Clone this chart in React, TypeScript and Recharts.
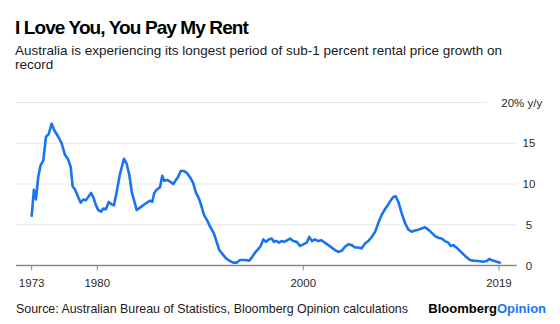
import React from 'react';
import { LineChart, Line, XAxis, YAxis, CartesianGrid } from 'recharts';

// Year (decimal) of each observation
const years = [
  1973.63, 1973.85, 1974.05, 1974.27, 1974.5, 1974.76, 1975.02, 1975.28, 1975.57, 1975.83,
  1976.21, 1976.54, 1976.86, 1977.18, 1977.42, 1977.61, 1977.83, 1978.06, 1978.39, 1978.64,
  1978.87, 1979.13, 1979.39, 1979.61, 1979.87, 1980.1, 1980.36, 1980.58, 1980.84, 1981.11,
  1981.4, 1981.62, 1981.88, 1982.2, 1982.59, 1982.85, 1983.11, 1983.37, 1983.66, 1983.83,
  1984.15, 1984.47, 1984.8, 1985.12, 1985.34, 1985.53, 1985.77, 1986.09, 1986.31, 1986.5,
  1986.8, 1987.06, 1987.38, 1987.64, 1987.86, 1988.1, 1988.42, 1988.74, 1989.07, 1989.32,
  1989.58, 1989.81, 1990.04, 1990.36, 1990.68, 1990.94, 1991.33, 1991.59, 1991.84, 1992.17,
  1992.5, 1992.88, 1993.2, 1993.53, 1993.85, 1994.34, 1994.76, 1994.99, 1995.31, 1995.63,
  1995.86, 1996.12, 1996.38, 1996.64, 1996.93, 1997.16, 1997.42, 1997.64, 1997.9, 1998.13,
  1998.45, 1998.71, 1999.03, 1999.36, 1999.68, 2000.0, 2000.33, 2000.58, 2000.84, 2001.13,
  2001.46, 2001.78, 2002.1, 2002.43, 2002.76, 2003.08, 2003.4, 2003.73, 2004.05, 2004.37,
  2004.7, 2005.02, 2005.34, 2005.67, 2005.99, 2006.31, 2006.64, 2006.96, 2007.28, 2007.61,
  2007.93, 2008.25, 2008.5, 2008.74, 2008.98, 2009.23, 2009.56, 2009.88, 2010.2, 2010.53,
  2010.85, 2011.17, 2011.5, 2011.82, 2012.14, 2012.47, 2012.79, 2013.11, 2013.44, 2013.76,
  2014.08, 2014.31, 2014.56, 2014.89, 2015.21, 2015.53, 2015.86, 2016.18, 2016.5, 2016.99,
  2017.48, 2017.83, 2018.06, 2018.39, 2018.78, 2019.09,
];

// Rental price growth, % y/y
const rentGrowth = [
  6.1, 9.3, 8.1, 10.9, 12.3, 12.9, 15.8, 16.1, 17.4, 16.6,
  15.8, 15.0, 13.6, 13.0, 12.1, 9.7, 9.35, 8.65, 7.7, 8.1,
  8.0, 8.4, 8.9, 8.4, 7.4, 6.8, 6.6, 7.0, 6.9, 7.8,
  7.5, 7.4, 9.0, 11.2, 13.1, 12.5, 11.1, 8.9, 7.6, 6.8,
  7.1, 7.4, 7.7, 7.95, 7.8, 8.9, 9.3, 9.6, 11.0, 10.4,
  10.5, 10.3, 10.0, 10.5, 10.9, 11.6, 11.6, 11.3, 10.7, 10.1,
  8.9, 8.4, 7.6, 6.2, 5.5, 4.8, 3.9, 2.9, 1.9, 1.4,
  0.88, 0.55, 0.35, 0.35, 0.67, 0.67, 0.6, 0.96, 1.57, 2.0,
  2.4, 3.2, 2.9, 3.2, 3.3, 2.9, 3.0, 2.8, 3.0, 2.9,
  3.1, 3.3, 3.0, 2.9, 2.4, 2.6, 2.8, 3.5, 3.0, 3.2,
  3.0, 3.1, 2.8, 2.5, 2.2, 1.9, 1.66, 1.8, 2.3, 2.6,
  2.5, 2.2, 2.2, 2.1, 2.7, 3.0, 3.5, 4.1, 5.2, 6.2,
  6.9, 7.5, 8.0, 8.4, 8.5, 7.8, 6.4, 5.2, 4.4, 4.15,
  4.3, 4.4, 4.55, 4.7, 4.4, 4.0, 3.6, 3.4, 3.3, 3.0,
  2.8, 2.4, 2.5, 2.2, 1.8, 1.4, 1.0, 0.67, 0.6, 0.55,
  0.47, 0.55, 0.8, 0.6, 0.47, 0.35,
];

const xTicks = [1973.63, 1980, 2000, 2019];
const xTickLabels = ['1973', '1980', '2000', '2019'];
const yTicks = [0, 5, 10, 15, 20];
const yTopLabel = '20% y/y';

const title = 'I Love You, You Pay My Rent';
const subtitleLines = [
  'Australia is experiencing its longest period of sub-1 percent rental price growth on',
  'record',
];
const sourceText = 'Source: Australian Bureau of Statistics, Bloomberg Opinion calculations';

const data = years.map((year, i) => ({ year, value: rentGrowth[i] }));

const FONT = '"Liberation Sans", Arial, Helvetica, sans-serif';

const XTick = (props: any) => {
  const { x, y, payload } = props;
  const idx = xTicks.indexOf(payload.value);
  const label = idx >= 0 ? xTickLabels[idx] : String(payload.value);
  return (
    <text x={x} y={y + 16.8} textAnchor="middle" fontSize={11.5} fill="#2a2a2a" fontFamily={FONT}>
      {label}
    </text>
  );
};

const YTick = (props: any) => {
  const { x, y, payload } = props;
  if (payload.value === 20) {
    return (
      <g>
        <rect x={x - 30} y={y - 6} width={60} height={12} fill="#ffffff" />
        <text x={x + 25.5} y={y + 4} textAnchor="end" fontSize={11.5} fill="#2a2a2a" fontFamily={FONT}>
          {yTopLabel}
        </text>
      </g>
    );
  }
  return (
    <text x={x + 12.3} y={y + 4} textAnchor="middle" fontSize={11.5} fill="#2a2a2a" fontFamily={FONT}>
      {String(payload.value)}
    </text>
  );
};

export default function App() {
  return (
    <div style={{ position: 'absolute', left: 0, top: 0, width: 560, height: 324, background: '#ffffff' }}>
      <LineChart
        width={560}
        height={324}
        data={data}
        margin={{ top: 102.5, right: 3.3, bottom: 28.5, left: 16 }}
      >
        <CartesianGrid horizontal vertical={false} stroke="#e8e8e8" strokeWidth={1} />
        <XAxis
          dataKey="year"
          type="number"
          domain={[1972.11, 2020.72]}
          ticks={xTicks}
          interval={0}
          height={30}
          axisLine={{ stroke: '#8a8a8a', strokeWidth: 1.6 }}
          tickLine={{ stroke: '#8a8a8a', strokeWidth: 1 }}
          tickSize={5}
          tickMargin={0}
          tick={<XTick />}
          allowDataOverflow
        />
        <YAxis
          orientation="right"
          type="number"
          domain={[0, 20]}
          ticks={yTicks}
          interval={0}
          width={40}
          axisLine={false}
          tickLine={false}
          tickSize={0}
          tickMargin={0}
          tick={<YTick />}
        />
        <Line
          type="linear"
          dataKey="value"
          stroke="#1a74f0"
          strokeWidth={2.6}
          dot={false}
          isAnimationActive={false}
          strokeLinejoin="round"
          strokeLinecap="round"
        />
      </LineChart>
      <svg
        width={560}
        height={324}
        style={{ position: 'absolute', left: 0, top: 0, pointerEvents: 'none' }}
      >
        <text x={15} y={34.3} fontSize={19} fontWeight="bold" letterSpacing={-0.9} fill="#000" fontFamily={FONT}>
          {title}
        </text>
        {subtitleLines.map((line, i) => (
          <text key={i} x={15} y={55 + i * 13.5} fontSize={13.5} fill="#1a1a1a" fontFamily={FONT}>
            {line}
          </text>
        ))}
        <text x={16} y={313.3} fontSize={12.4} fill="#1a1a1a" fontFamily={FONT}>
          {sourceText}
        </text>
        <text x={428.3} y={313.3} fontSize={13} fontWeight="bold" fontFamily={FONT}>
          <tspan fill="#000000">Bloomberg</tspan>
          <tspan fill="#1a74f0">Opinion</tspan>
        </text>
      </svg>
    </div>
  );
}
